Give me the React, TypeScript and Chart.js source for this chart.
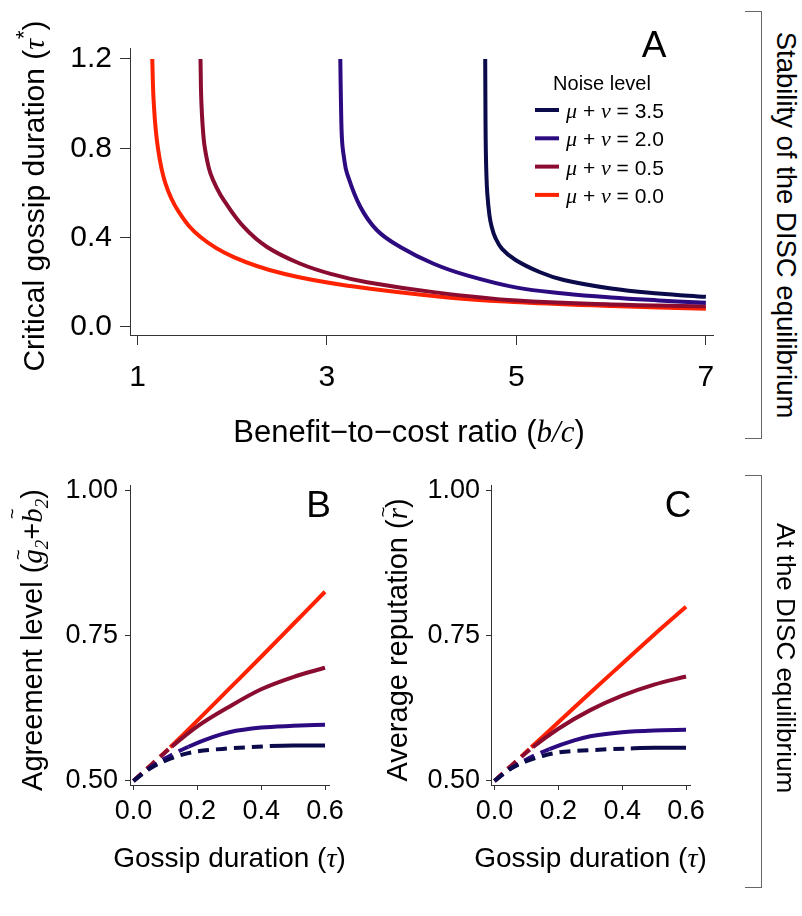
import React, { useEffect, useRef } from "react";
import { Chart, registerables } from "chart.js";

Chart.register(...registerables);

// ---------------- data ----------------
const noiseLevels = ["3.5", "2.0", "0.5", "0.0"];
const seriesColors = ["#0b0a4a", "#2c0b80", "#8a0c30", "#ff2200"];

// Panel A: critical gossip duration (tau*) vs benefit-to-cost ratio (b/c)
const bcNavy = [4.6705, 4.674, 4.6767, 4.6819, 4.6921, 4.7152, 4.738, 4.777, 4.848, 4.991, 5.25, 5.5, 6.0, 6.5, 7.0];
const tauStarNavy = [1.2, 0.9, 0.8, 0.7, 0.6, 0.5, 0.45, 0.4, 0.35, 0.3, 0.245, 0.21, 0.172, 0.15, 0.135];
const bcPurple = [3.141, 3.148, 3.159, 3.181, 3.212, 3.352, 3.528, 3.774, 4.126, 4.478, 5.005, 5.5, 6.0, 6.5, 7.0];
const tauStarPurple = [1.2, 1.002, 0.837, 0.755, 0.688, 0.538, 0.433, 0.358, 0.283, 0.231, 0.176, 0.15, 0.132, 0.119, 0.108];
const bcMaroon = [1.665, 1.675, 1.7, 1.733, 1.77, 1.835, 1.911, 2.122, 2.368, 2.719, 3.071, 3.423, 4.126, 5.005, 6.0, 7.0];
const tauStarMaroon = [1.2, 1.002, 0.837, 0.75, 0.688, 0.624, 0.568, 0.448, 0.358, 0.283, 0.234, 0.2, 0.156, 0.118, 0.101, 0.093];
const bcRed = [1.156, 1.172, 1.214, 1.295, 1.436, 1.665, 2.016, 2.544, 3.247, 4.302, 5.04, 6.0, 7.0];
const tauStarRed = [1.2, 1.002, 0.807, 0.643, 0.515, 0.403, 0.313, 0.238, 0.183, 0.131, 0.111, 0.094, 0.081];
const bcTicks = [1, 3, 5, 7];
const tauStarTicks = [0, 0.4, 0.8, 1.2];

// Panels B and C: gossip duration (tau)
const tauNavy = [0, 0.05, 0.1, 0.15, 0.2, 0.3, 0.427, 0.5, 0.6];
const tauPurple = [0, 0.05, 0.1, 0.172, 0.25, 0.3, 0.4, 0.5, 0.6];
const tauMaroon = [0, 0.05, 0.12, 0.2, 0.3, 0.4, 0.5, 0.6];
const tauRed = [0, 0.05, 0.115, 0.2, 0.3, 0.4, 0.5, 0.6];
const tauCritical = [0.427, 0.172, 0.12, 0.115];

// Panel B: agreement level
const agreeNavy = [0.5, 0.521, 0.535, 0.545, 0.551, 0.556, 0.56, 0.561, 0.561];
const agreePurple = [0.5, 0.522, 0.539, 0.559, 0.576, 0.584, 0.592, 0.595, 0.597];
const agreeMaroon = [0.5, 0.525, 0.559, 0.594, 0.628, 0.658, 0.679, 0.695];
const agreeRed = [0.5, 0.525, 0.558, 0.604, 0.659, 0.714, 0.77, 0.826];

// Panel C: average reputation
const repNavy = [0.5, 0.521, 0.534, 0.543, 0.549, 0.553, 0.556, 0.557, 0.557];
const repPurple = [0.5, 0.521, 0.537, 0.555, 0.57, 0.577, 0.584, 0.587, 0.588];
const repMaroon = [0.5, 0.525, 0.558, 0.59, 0.622, 0.647, 0.666, 0.68];
const repRed = [0.5, 0.525, 0.558, 0.601, 0.652, 0.702, 0.752, 0.8];

const tauTicks = [0, 0.2, 0.4, 0.6];
const levelTicks = [0.5, 0.75, 1.0];

// ---------------- styling helpers ----------------
const SANS = "'Liberation Sans', Arial, Helvetica, sans-serif";
const SERIF = "'Liberation Serif', 'Times New Roman', serif";
const AXIS = "#333333";

type Run = {
  t: string;
  size: number;
  italic?: boolean;
  serif?: boolean;
  dy?: number;
  accent?: string;
  accentDy?: number;
};

function fontOf(r: Run) {
  return `${r.italic ? "italic " : ""}${r.size}px ${r.serif ? SERIF : SANS}`;
}

function drawRuns(
  ctx: CanvasRenderingContext2D,
  runs: Run[],
  x: number,
  y: number,
  rot = 0,
  align: "center" | "left" = "center"
) {
  const base = runs[0].size;
  ctx.save();
  ctx.translate(x, y);
  ctx.rotate(rot);
  ctx.fillStyle = "#000";
  ctx.textBaseline = "alphabetic";
  ctx.textAlign = "left";
  const widths = runs.map((r) => {
    ctx.font = fontOf(r);
    return ctx.measureText(r.t).width;
  });
  const total = widths.reduce((a, b) => a + b, 0);
  let cx = align === "center" ? -total / 2 : 0;
  const by = base * 0.36;
  runs.forEach((r, i) => {
    ctx.font = fontOf(r);
    ctx.textAlign = "left";
    ctx.fillText(r.t, cx, by + (r.dy || 0));
    if (r.accent) {
      ctx.font = `${Math.round(r.size * 0.62)}px ${SANS}`;
      ctx.textAlign = "center";
      ctx.fillText(r.accent, cx + widths[i] / 2 + r.size * 0.06, by + (r.accentDy ?? -r.size * 0.62));
    }
    cx += widths[i];
  });
  ctx.restore();
}

function makeAxis(o: {
  min: number;
  max: number;
  ticks: number[];
  fmt: (v: number) => string;
  size: number;
  tickLen: number;
  pad: number;
  fit: number;
  horizontal: boolean;
}) {
  return {
    type: "linear",
    min: o.min,
    max: o.max,
    bounds: "data",
    afterBuildTicks: (ax: any) => {
      ax.ticks = o.ticks.map((v) => ({ value: v }));
    },
    afterFit: (ax: any) => {
      if (o.horizontal) ax.height = o.fit;
      else ax.width = o.fit;
    },
    ticks: {
      autoSkip: false,
      maxRotation: 0,
      minRotation: 0,
      padding: o.pad,
      color: "#000",
      font: { family: SANS, size: o.size },
      callback: (v: any) => o.fmt(Number(v)),
    },
    grid: {
      display: true,
      drawOnChartArea: false,
      drawTicks: true,
      tickLength: o.tickLen,
      color: AXIS,
      tickColor: AXIS,
      lineWidth: 1,
    },
    border: { display: true, color: AXIS, width: 1 },
  };
}

function lineDataset(
  xs: number[],
  ys: number[],
  color: string,
  label: string,
  dashUntil?: number,
  smooth: "monotone" | "spline" = "monotone"
) {
  const ds: any = {
    label,
    data: xs.map((x, i) => ({ x, y: ys[i] })),
    borderColor: color,
    backgroundColor: color,
    borderWidth: 4,
    pointRadius: 0,
    fill: false,
    borderCapStyle: "butt",
    borderJoinStyle: "round",
  };
  if (smooth === "monotone") {
    ds.cubicInterpolationMode = "monotone";
  } else {
    ds.cubicInterpolationMode = "default";
    ds.tension = 0.4;
  }
  if (dashUntil !== undefined) {
    ds.segment = {
      borderDash: (c: any) => (c.p1.parsed.x <= dashUntil + 1e-9 ? [11, 7] : undefined),
    };
  }
  return ds;
}

const baseOptions = (padding: any, scales: any) => ({
  responsive: false,
  animation: false,
  devicePixelRatio: 1,
  events: [],
  layout: { padding },
  plugins: { legend: { display: false }, tooltip: { enabled: false }, title: { display: false } },
  scales,
});

// ---------------- configs ----------------
function configA(): any {
  const xs = [bcNavy, bcPurple, bcMaroon, bcRed];
  const ys = [tauStarNavy, tauStarPurple, tauStarMaroon, tauStarRed];
  return {
    type: "line",
    data: {
      datasets: xs.map((x, i) => lineDataset(x, ys[i], seriesColors[i], noiseLevels[i], undefined, "spline")),
    },
    options: baseOptions(
      { left: 0, top: 48, right: 17, bottom: 0 },
      {
        x: makeAxis({
          min: 0.921, max: 7.075, ticks: bcTicks, fmt: (v) => String(v),
          size: 30, tickLen: 10, pad: 15, fit: 470 - 335, horizontal: true,
        }),
        y: makeAxis({
          min: -0.036, max: 1.249, ticks: tauStarTicks, fmt: (v) => v.toFixed(1),
          size: 30, tickLen: 10, pad: 8, fit: 130, horizontal: false,
        }),
      }
    ),
    plugins: [
      {
        id: "decorA",
        afterDraw(chart: any) {
          const ctx = chart.ctx as CanvasRenderingContext2D;
          drawRuns(ctx, [
            { t: "Critical gossip duration (", size: 30 },
            { t: "τ", size: 30, italic: true, serif: true },
            { t: "*", size: 22, dy: -13 },
            { t: ")", size: 30 },
          ], 33, 196, -Math.PI / 2);
          drawRuns(ctx, [
            { t: "Benefit−to−cost ratio (", size: 31 },
            { t: "b/c", size: 31, italic: true, serif: true },
            { t: ")", size: 31 },
          ], 409, 431);
          drawRuns(ctx, [{ t: "A", size: 37 }], 654, 44);
          // legend
          drawRuns(ctx, [{ t: "Noise level", size: 20 }], 602, 83);
          chart.data.datasets.forEach((ds: any, i: number) => {
            const y = 110 + i * 28.3;
            ctx.save();
            ctx.strokeStyle = ds.borderColor;
            ctx.lineWidth = 4;
            ctx.beginPath();
            ctx.moveTo(535, y);
            ctx.lineTo(559, y);
            ctx.stroke();
            ctx.restore();
            drawRuns(ctx, [
              { t: "μ", size: 22, italic: true, serif: true },
              { t: " + ", size: 21 },
              { t: "ν", size: 22, italic: true, serif: true },
              { t: " = " + noiseLevels[i], size: 21 },
            ], 566, y, 0, "left");
          });
        },
      },
    ],
  };
}

function configBC(which: "B" | "C"): any {
  const xs = [tauNavy, tauPurple, tauMaroon, tauRed];
  const ys = which === "B"
    ? [agreeNavy, agreePurple, agreeMaroon, agreeRed]
    : [repNavy, repPurple, repMaroon, repRed];
  const leftW = which === "B" ? 130 : 131;
  const canvasW = which === "B" ? 400 : 370;
  return {
    type: "line",
    data: {
      datasets: xs.map((x, i) => lineDataset(x, ys[i], seriesColors[i], noiseLevels[i], tauCritical[i])),
    },
    options: baseOptions(
      { left: 0, top: 25, right: canvasW - leftW - 199, bottom: 0 },
      {
        x: makeAxis({
          min: -0.011, max: 0.6125, ticks: tauTicks, fmt: (v) => v.toFixed(1),
          size: 27, tickLen: 5, pad: 5, fit: 456 - 325, horizontal: true,
        }),
        y: makeAxis({
          min: 0.493, max: 1.01, ticks: levelTicks, fmt: (v) => v.toFixed(2),
          size: 27, tickLen: 5, pad: which === "B" ? 7 : 6, fit: leftW, horizontal: false,
        }),
      }
    ),
    plugins: [
      {
        id: "decor" + which,
        afterDraw(chart: any) {
          const ctx = chart.ctx as CanvasRenderingContext2D;
          const cxArea = leftW + 199 / 2;
          drawRuns(ctx, [
            { t: "Gossip duration (", size: 28 },
            { t: "τ", size: 28, italic: true, serif: true },
            { t: ")", size: 28 },
          ], cxArea, 397);
          if (which === "B") {
            drawRuns(ctx, [
              { t: "Agreement level (", size: 29 },
              { t: "g", size: 29, italic: true, serif: true, accent: "~", accentDy: -18 },
              { t: "2", size: 19, italic: true, serif: true, dy: 6 },
              { t: "+", size: 29 },
              { t: "b", size: 29, italic: true, serif: true, accent: "~", accentDy: -24 },
              { t: "2", size: 19, italic: true, serif: true, dy: 6 },
              { t: ")", size: 29 },
            ], 32, 180, -Math.PI / 2);
            drawRuns(ctx, [{ t: "B", size: 37 }], 318.5, 44);
          } else {
            drawRuns(ctx, [
              { t: "Average reputation (", size: 29 },
              { t: "r", size: 29, italic: true, serif: true, accent: "~", accentDy: -18 },
              { t: ")", size: 29 },
            ], 37, 180, -Math.PI / 2);
            drawRuns(ctx, [{ t: "C", size: 37 }], 318, 44);
          }
        },
      },
    ],
  };
}

// ---------------- components ----------------
function ChartPanel(props: { left: number; top: number; width: number; height: number; make: () => any }) {
  const ref = useRef<HTMLCanvasElement | null>(null);
  useEffect(() => {
    if (!ref.current) return;
    const chart = new Chart(ref.current, props.make());
    return () => chart.destroy();
  }, []);
  return (
    <canvas
      ref={ref}
      width={props.width}
      height={props.height}
      style={{ position: "absolute", left: props.left, top: props.top, width: props.width, height: props.height }}
    />
  );
}

const sideText: React.CSSProperties = {
  position: "absolute",
  transform: "translate(-50%, -50%) rotate(90deg)",
  whiteSpace: "nowrap",
  fontFamily: SANS,
  lineHeight: 1,
  color: "#000",
};

const bracket: React.CSSProperties = {
  position: "absolute",
  width: 17,
  borderTop: "1px solid #666",
  borderRight: "1px solid #666",
  borderBottom: "1px solid #666",
  boxSizing: "border-box",
};

export default function App() {
  return (
    <div style={{ position: "absolute", left: 0, top: 0, width: 802, height: 916, overflow: "hidden", background: "#fff" }}>
      <ChartPanel left={0} top={0} width={730} height={470} make={configA} />
      <ChartPanel left={0} top={460} width={400} height={456} make={() => configBC("B")} />
      <ChartPanel left={360} top={460} width={370} height={456} make={() => configBC("C")} />
      <div style={{ ...bracket, left: 745, top: 11, height: 428 }} />
      <div style={{ ...sideText, fontSize: 27.5, left: 786, top: 225 }}>Stability of the DISC equilibrium</div>
      <div style={{ ...bracket, left: 745, top: 475, height: 413 }} />
      <div style={{ ...sideText, fontSize: 26, left: 786, top: 658 }}>At the DISC equilibrium</div>
    </div>
  );
}
